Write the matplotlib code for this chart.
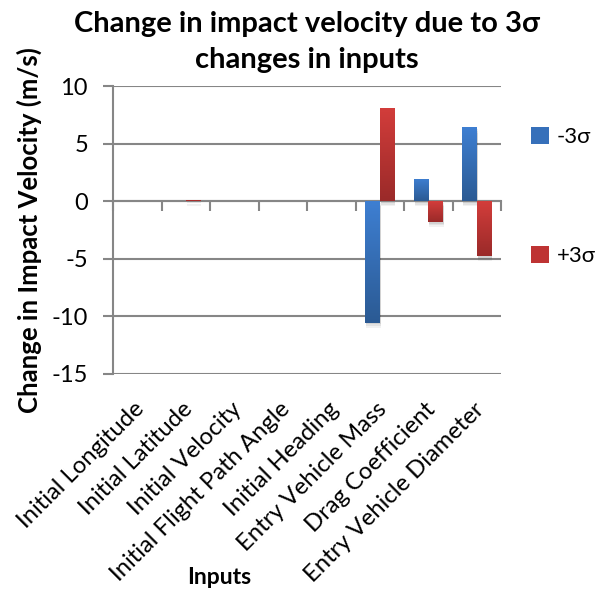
import numpy as np
import matplotlib
matplotlib.use("Agg")
import matplotlib.pyplot as plt
from matplotlib.colors import LinearSegmentedColormap
from matplotlib.transforms import blended_transform_factory

categories = ["Initial Longitude", "Initial Latitude", "Initial Velocity",
              "Initial Flight Path Angle", "Initial Heading", "Entry Vehicle Mass",
              "Drag Coefficient", "Entry Vehicle Diameter"]
minus3 = [0.0, 0.0, 0.0, 0.0, 0.0, -10.55, 1.97, 6.4]
plus3 = [0.0, 0.1, 0.0, 0.0, 0.0, 8.13, -1.8, -4.75]
series_labels = ["-3σ", "+3σ"]
yticks = [-15, -10, -5, 0, 5, 10]

plt.rcParams['font.family'] = ['Lato', 'DejaVu Sans']
plt.rcParams['axes.unicode_minus'] = False
grid_c = "#868686"

fig = plt.figure(figsize=(5.97, 5.92), dpi=100)
ax = fig.add_axes([113/597, 1-374/592, 388/597, 288/592])

x = np.arange(len(categories))
w = 0.3
blue_cmap = LinearSegmentedColormap.from_list("b", ["#3E7FD2", "#2B5A93"])
red_cmap = LinearSegmentedColormap.from_list("r", ["#D33D3B", "#9A2A29"])

bars_b = ax.bar(x - w/2, minus3, w, color="#3A77C4", label=series_labels[0], zorder=3)
bars_r = ax.bar(x + w/2, plus3, w, color="#C0393A", label=series_labels[1], zorder=3)

grad = np.linspace(0, 1, 256).reshape(-1, 1)
for bars, cmap in ((bars_b, blue_cmap), (bars_r, red_cmap)):
    for p in bars:
        h = p.get_height()
        if h == 0:
            continue
        x0 = p.get_x(); x1 = x0 + p.get_width()
        ylo, yhi = min(0, h), max(0, h)
        for k, a in ((0.45, 0.05), (0.3, 0.06), (0.15, 0.07)):
            sh = plt.Rectangle((x0 + 0.02, ylo - k), p.get_width(), yhi - ylo,
                               facecolor="black", alpha=a, zorder=2, linewidth=0)
            ax.add_patch(sh)
        im = ax.imshow(grad, cmap=cmap, aspect="auto", extent=(x0, x1, ylo, yhi),
                       origin="upper", zorder=4)
        im.set_clip_path(p)
        p.set_facecolor("none")

ax.set_xlim(-0.5, len(categories) - 0.5)
ax.set_ylim(-15, 10)
ax.set_yticks(yticks)
ax.yaxis.grid(True, color=grid_c, linewidth=1.5, zorder=0)
ax.set_axisbelow(True)

for s in ["top", "right"]:
    ax.spines[s].set_visible(False)
ax.spines["left"].set_color(grid_c)
ax.spines["left"].set_linewidth(1.5)
ax.spines["bottom"].set_position(("data", 0))
ax.spines["bottom"].set_color(grid_c)
ax.spines["bottom"].set_linewidth(1.5)

ax.set_xticks(np.arange(-0.5, len(categories) - 0.4, 1))
ax.set_xticklabels([])
ax.tick_params(axis="x", direction="out", length=7, width=1.5, color=grid_c)
ax.tick_params(axis="y", direction="out", length=7, width=1.5, color=grid_c,
               labelsize=17, pad=11, labelcolor="black")

trans = blended_transform_factory(ax.transData, ax.transAxes)
for i, c in enumerate(categories):
    ax.text(i - 0.08, -0.085, c, transform=trans, rotation=45, ha="right", va="top",
            rotation_mode="anchor", fontsize=17.2)

ax.set_ylabel("Change in Impact Velocity (m/s)", fontsize=18.5, fontweight="bold", labelpad=7)
fig.text(219/597, 1-577/592, "Inputs", fontsize=16.5, fontweight="bold", ha="center", va="center")
fig.text(307/597, 1-42/592, "Change in impact velocity due to 3σ\nchanges in inputs",
         fontsize=21, fontweight="bold", ha="center", va="center", linespacing=1.45)

leg = fig.legend(handles=[bars_b[0], bars_r[0]], labels=series_labels,
                 loc="upper left", bbox_to_anchor=(531/597, 1-127/592),
                 frameon=False, fontsize=16, handlelength=0.8, handleheight=0.8,
                 handletextpad=0.35, labelspacing=4.45, borderpad=0, borderaxespad=0)
leg.legend_handles[0].set_facecolor("#3670BA")
leg.legend_handles[1].set_facecolor("#BE3333")

fig.savefig("out.png", dpi=100)
